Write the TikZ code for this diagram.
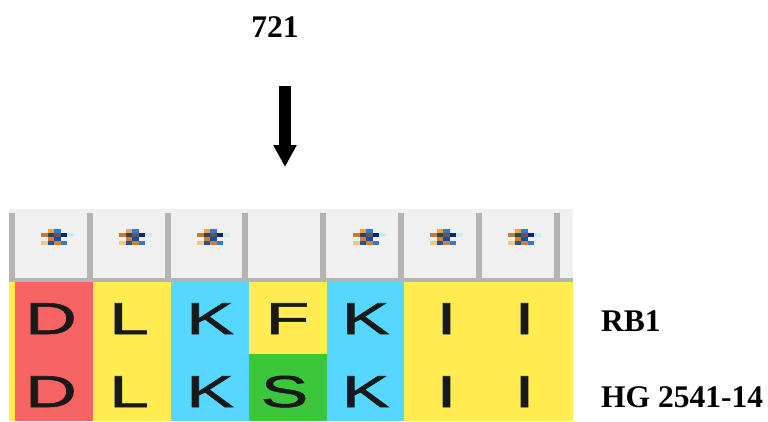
\documentclass[tikz,border=0pt]{standalone}
\usepackage{fontspec}
\setmainfont{Liberation Serif}
\newfontfamily\lsans[FakeBold=1.2]{Liberation Sans}
\usetikzlibrary{arrows.meta}
\definecolor{cred}{HTML}{F56363}
\definecolor{cyel}{HTML}{FFEC50}
\definecolor{ccyan}{HTML}{55D7FF}
\definecolor{cgreen}{HTML}{3CC63C}
\definecolor{cbar}{HTML}{B4B4B4}
\definecolor{cpanel}{HTML}{F0F0F0}
\definecolor{icA}{HTML}{F0A050}
\definecolor{icB}{HTML}{2E7BD0}
\definecolor{icC}{HTML}{C87830}
\definecolor{icD}{HTML}{2A4A4A}
\definecolor{icE}{HTML}{705050}
\definecolor{icF}{HTML}{002878}
\definecolor{icG}{HTML}{C8F0F0}
\definecolor{icH}{HTML}{D08030}
\definecolor{icI}{HTML}{0850A8}
\definecolor{icJ}{HTML}{F5C880}
\definecolor{icK}{HTML}{2850A0}
\newcommand\seqch[1]{\scalebox{1.6}[1]{#1}}
\newcommand\seqicon[1]{%
  \fill[icA] (#1+7,229) rectangle (#1+13,233);
  \fill[icB] (#1+13,229) rectangle (#1+20,233);
  \fill[icC] (#1,233) rectangle (#1+7,237);
  \fill[icD] (#1+7,233) rectangle (#1+13,237);
  \fill[icE] (#1+13,233) rectangle (#1+20,237);
  \fill[icF] (#1+20,233) rectangle (#1+26,237);
  \fill[icG] (#1+26,233) rectangle (#1+33,237);
  \fill[icH] (#1+7,237) rectangle (#1+13,241);
  \fill[icI] (#1+13,237) rectangle (#1+20,241);
  \fill[icJ] (#1,241) rectangle (#1+7,245);
  \fill[icK] (#1+7,241) rectangle (#1+13,245);
  \fill[icH] (#1+13,241) rectangle (#1+20,245);
  \fill[icB] (#1+20,241) rectangle (#1+26,245);
}
\tikzset{
  seqletter/.style={font=\lsans\fontsize{44.7}{50}\selectfont, inner sep=0pt, anchor=base, text=black!90},
  lab/.style={font=\bfseries\fontsize{31.5}{36}\selectfont, inner sep=0pt, text=black}
}
\begin{document}
\begin{tikzpicture}[x=1pt,y=-1pt]
\useasboundingbox (0,0) rectangle (768,421);
% header panel
\fill[cpanel] (9,209) rectangle (573,282);
\foreach \x in {9,87,165,242,320,398,476,554} \fill[cbar] (\x,213) rectangle ++(6,69);
\fill[cbar] (9,278) rectangle (573,282);
\foreach \L in {41,119,197,353,430,508} {\seqicon{\L}}
% residue cells
\fill[cyel] (9,282) rectangle (15,421);
\fill[cred] (15,282) rectangle (93,421);
\fill[cyel] (93,282) rectangle (171,421);
\fill[ccyan] (171,282) rectangle (249,421);
\fill[cyel] (249,282) rectangle (327,354);
\fill[cgreen] (249,354) rectangle (327,421);
\fill[ccyan] (327,282) rectangle (404,421);
\fill[cyel] (404,282) rectangle (573,421);
% letters row 1
\node[seqletter] (a1) at (51,334) {\seqch{D}};
\node[seqletter] (a2) at (129,334) {\seqch{L}};
\node[seqletter] (a3) at (210,334) {\seqch{K}};
\node[seqletter] (a4) at (287.5,334) {\seqch{F}};
\node[seqletter] (a5) at (365.5,334) {\seqch{K}};
\node[seqletter] (a6) at (446.5,334) {\seqch{I}};
\node[seqletter] (a7) at (524.5,334) {\seqch{I}};
% letters row 2
\node[seqletter] (b1) at (51,407) {\seqch{D}};
\node[seqletter] (b2) at (129,407) {\seqch{L}};
\node[seqletter] (b3) at (210,407) {\seqch{K}};
\node[seqletter] (b4) at (284.5,407) {\seqch{S}};
\node[seqletter] (b5) at (365.5,407) {\seqch{K}};
\node[seqletter] (b6) at (446.5,407) {\seqch{I}};
\node[seqletter] (b7) at (524.5,407) {\seqch{I}};
% labels
\node[lab, anchor=base] (pos) at (275,37) {721};
\node[lab, anchor=base west] (rb1) at (601,331) {RB1};
\node[lab, anchor=base west] (hg) at (601,407) {HG 2541-14};
% arrow
\coordinate (atop) at (285,86);
\coordinate (abot) at (285,167);
\draw[line width=12pt, -{Triangle[width=22pt,length=22pt]}] (atop) -- (abot);
\end{tikzpicture}
\end{document}
